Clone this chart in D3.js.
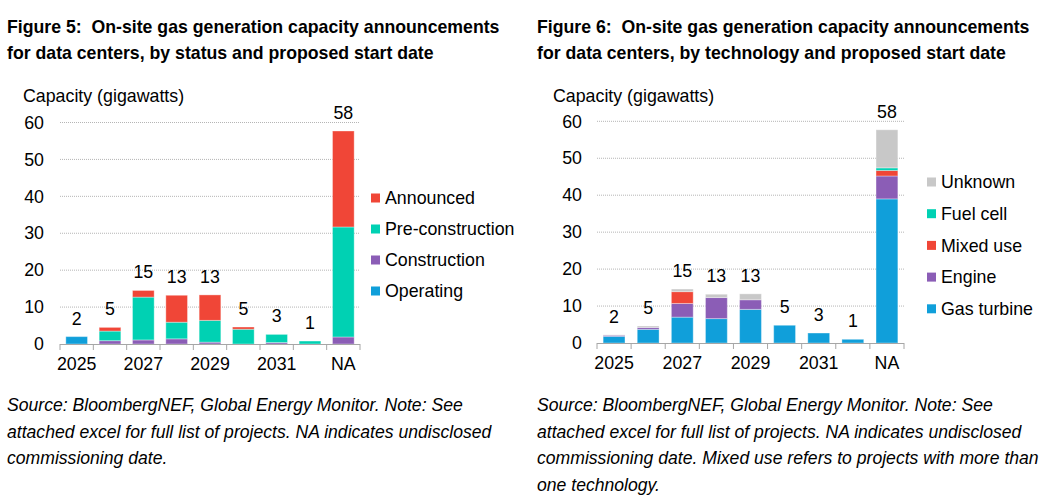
<!DOCTYPE html>
<html>
<head>
<meta charset="utf-8">
<script src="https://cdn.jsdelivr.net/npm/d3@7"></script>
<style>
  body { margin: 0; background: #fff; }
  text { font-family: "Liberation Sans", Arial, sans-serif; fill: #000; }
</style>
</head>
<body>
<svg id="main" width="1061" height="501"></svg>
<script>
// categories shared by both figures
var years = ["2025", "2026", "2027", "2028", "2029", "2030", "2031", "2032", "NA"];
var shownYears = ["2025", "2027", "2029", "2031", "NA"];
var yTicks = [0, 10, 20, 30, 40, 50, 60];

// figure 5: by status (GW)
var operating       = [2.0, 0,   0,    0,   0,   0,   0,   0,   0];
var construction    = [0,   0.9, 1.1,  1.4, 0.5, 0,   0.4, 0,   1.9];
var preConstruction = [0,   2.6, 11.6, 4.5, 5.9, 4.0, 2.2, 0.8, 29.8];
var announced       = [0,   1.0, 1.8,  7.3, 6.9, 0.6, 0,   0,   26.0];
var statusTotals    = [2, 5, 15, 13, 13, 5, 3, 1, 58];

// figure 6: by technology (GW)
var gasTurbine = [1.8, 3.7, 7.0, 6.6, 9.1, 4.8, 2.7, 1.0, 39.0];
var engine     = [0.3, 0.5, 3.7, 5.7, 2.6, 0,   0,   0,   6.2];
var mixedUse   = [0,   0,   3.2, 0,   0,   0,   0,   0,   1.5];
var fuelCell   = [0,   0,   0,   0,   0,   0,   0,   0,   0.7];
var unknown    = [0.1, 0.4, 0.7, 0.9, 1.6, 0,   0,   0,   10.3];
var techTotals = [2, 5, 15, 13, 13, 5, 3, 1, 58];

const blue = "#109fda", teal = "#00d1b3", purple = "#8b5db6", red = "#f04637", grey = "#c8c8c8";

var svg = d3.select("#main");

function chart(cfg){
    var g = svg.append("g");
    var n = years.length;

    var x = d3.scaleBand().domain(years)
        .range([cfg.x0, cfg.x1])
        .paddingInner(cfg.pad).paddingOuter(cfg.pad/2);
    var xb = d3.scaleLinear().domain([0, n]).range([cfg.x0, cfg.x1]);
    var y = d3.scaleLinear().domain([0, 60]).range([cfg.y0, cfg.y60]);

    // title (keeps the double space after the colon)
    var t = g.append("text").style("font-weight", "bold").style("font-size", "17.7px")
        .style("white-space", "pre");
    cfg.title.forEach(function(l, i){
        t.append("tspan").attr("x", cfg.left).attr("y", 33 + i*26).text(l);
    });

    g.append("text").attr("x", cfg.left + 16).attr("y", 102)
        .style("font-size", "17.8px").text("Capacity (gigawatts)");

    // gridlines
    g.selectAll(".grid").data(yTicks.slice(1)).enter().append("line")
        .attr("x1", cfg.x0).attr("x2", cfg.x1)
        .attr("y1", d => y(d)).attr("y2", d => y(d))
        .attr("stroke", "#b5b5b5").attr("stroke-dasharray", "1,1");

    // y axis labels
    var ya = g.append("g").attr("transform", "translate(" + cfg.x0 + ",0)")
        .call(d3.axisLeft(y).tickValues(yTicks).tickSize(0).tickPadding(cfg.tickPad));
    ya.select(".domain").remove();
    ya.selectAll("text").style("font-size", "17.8px").style("font-family", "Liberation Sans, Arial, sans-serif");

    // stacked bars
    var keys = cfg.series.map(s => s.name);
    var rows = years.map(function(yr, i){
        var r = {year: yr};
        cfg.series.forEach(s => r[s.name] = s.values[i]);
        return r;
    });
    var stacked = d3.stack().keys(keys)(rows);
    var colour = d3.scaleOrdinal().domain(keys).range(cfg.series.map(s => s.colour));

    g.selectAll(".layer").data(stacked).enter().append("g")
        .attr("fill", d => colour(d.key))
        .selectAll("rect").data(d => d.filter(p => p[1] - p[0] > 0)).enter().append("rect")
        .attr("x", d => x(d.data.year))
        .attr("width", x.bandwidth())
        .attr("y", d => y(d[1]))
        .attr("height", d => y(d[0]) - y(d[1]))
        .attr("stroke", "#fff").attr("stroke-opacity", 0.35).attr("stroke-width", 1);

    // totals above bars
    g.selectAll(".tot").data(years).enter().append("text")
        .attr("x", d => x(d) + x.bandwidth()/2)
        .attr("y", (d, i) => y(d3.sum(cfg.series, s => s.values[i])) - 12)
        .attr("text-anchor", "middle").style("font-size", "17.8px")
        .text((d, i) => cfg.totals[i]);

    // x axis line and boundary ticks
    g.append("line").attr("x1", cfg.x0).attr("x2", cfg.x1)
        .attr("y1", cfg.y0 + 0.5).attr("y2", cfg.y0 + 0.5).attr("stroke", "#a6a6a6");
    g.selectAll(".btick").data(d3.range(n + 1)).enter().append("line")
        .attr("x1", d => xb(d)).attr("x2", d => xb(d))
        .attr("y1", cfg.y0).attr("y2", cfg.y0 + 6).attr("stroke", "#a6a6a6");

    var xa = g.append("g").attr("transform", "translate(0," + cfg.y0 + ")")
        .call(d3.axisBottom(x).tickValues(shownYears).tickSize(0).tickPadding(13));
    xa.select(".domain").remove();
    xa.selectAll("text").style("font-size", "17.8px").style("font-family", "Liberation Sans, Arial, sans-serif");

    // legend
    var leg = g.selectAll(".leg").data(cfg.series.slice().reverse()).enter().append("g")
        .attr("transform", (d, i) => "translate(" + cfg.legX + "," + (cfg.legY + i*cfg.legStep) + ")");
    leg.append("rect").attr("x", 0).attr("y", -4.5).attr("width", 9).attr("height", 9)
        .attr("fill", d => d.colour);
    leg.append("text").attr("x", 14).attr("dy", "0.35em")
        .style("font-size", "17.8px").text(d => d.name);

    // source note
    var f = g.append("text").style("font-style", "italic").style("font-size", "17.6px");
    cfg.note.forEach(function(l, i){
        f.append("tspan").attr("x", cfg.left).attr("y", 411 + i*26.7).text(l);
    });
}

chart({
    left: 7, x0: 60, x1: 360, y0: 344, y60: 122.5, pad: 0.35, tickPad: 16,
    title: ["Figure 5:  On-site gas generation capacity announcements",
            "for data centers, by status and proposed start date"],
    series: [
        {name: "Operating", values: operating, colour: blue},
        {name: "Construction", values: construction, colour: purple},
        {name: "Pre-construction", values: preConstruction, colour: teal},
        {name: "Announced", values: announced, colour: red}
    ],
    totals: statusTotals,
    legX: 371, legY: 198, legStep: 31,
    note: ["Source: BloombergNEF, Global Energy Monitor. Note: See",
           "attached excel for full list of projects. NA indicates undisclosed",
           "commissioning date."]
});

chart({
    left: 537, x0: 597, x1: 904, y0: 343, y60: 121.3, pad: 0.36, tickPad: 15,
    title: ["Figure 6:  On-site gas generation capacity announcements",
            "for data centers, by technology and proposed start date"],
    series: [
        {name: "Gas turbine", values: gasTurbine, colour: blue},
        {name: "Engine", values: engine, colour: purple},
        {name: "Mixed use", values: mixedUse, colour: red},
        {name: "Fuel cell", values: fuelCell, colour: teal},
        {name: "Unknown", values: unknown, colour: grey}
    ],
    totals: techTotals,
    legX: 927, legY: 182, legStep: 31.7,
    note: ["Source: BloombergNEF, Global Energy Monitor. Note: See",
           "attached excel for full list of projects. NA indicates undisclosed",
           "commissioning date. Mixed use refers to projects with more than",
           "one technology."]
});
</script>
</body>
</html>
